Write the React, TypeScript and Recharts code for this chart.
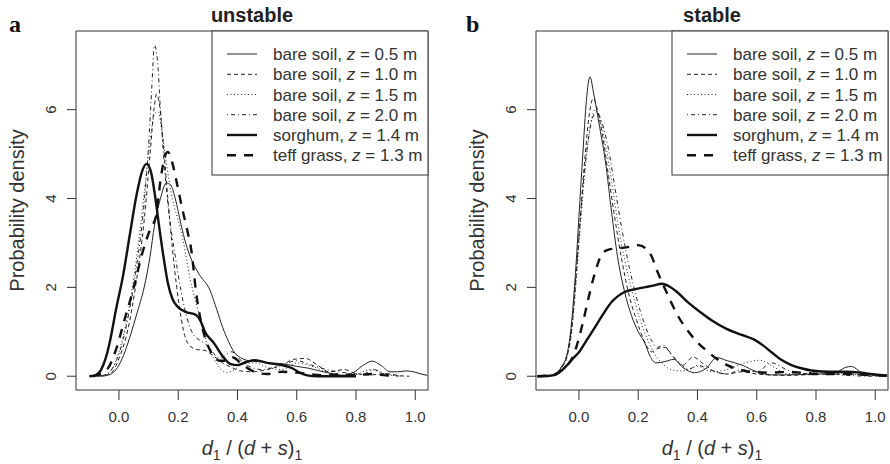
import React from 'react';
import { LineChart, Line, XAxis, YAxis, ReferenceArea } from 'recharts';

type P = [number, number];

const FONT = '"Liberation Sans", Arial, Helvetica, sans-serif';
const xTicks = [0, 0.2, 0.4, 0.6, 0.8, 1.0];
const yTicks = [0, 2, 4, 6];
const xDomain: [number, number] = [-0.145, 1.043];
const yDomain: [number, number] = [-0.31, 7.77];

const seriesNames = ['bare soil', 'bare soil', 'bare soil', 'bare soil', 'sorghum', 'teff grass'];
const seriesHeights = ['0.5', '1.0', '1.5', '2.0', '1.4', '1.3'];

// ---- unstable (a) ----
const unstableBare05: P[] = [[-0.06,0],[-0.04,0.02],[-0.02,0.08],[0,0.25],[0.02,0.55],[0.04,0.95],[0.06,1.4],[0.085,2.0],[0.105,2.7],[0.12,3.4],[0.14,4.0],[0.16,4.35],[0.175,4.3],[0.19,4.0],[0.21,3.4],[0.225,3.0],[0.24,2.7],[0.27,2.3],[0.307,1.94],[0.33,1.5],[0.35,1.1],[0.37,0.78],[0.385,0.58],[0.41,0.42],[0.43,0.36],[0.47,0.33],[0.51,0.3],[0.555,0.28],[0.6,0.22],[0.64,0.18],[0.67,0.13],[0.71,0.07],[0.757,0.02],[0.79,0.08],[0.825,0.25],[0.855,0.34],[0.885,0.24],[0.915,0.1],[0.94,0.1],[0.97,0.12],[1.0,0.09],[1.02,0.05],[1.04,0.02]];
const unstableBare10: P[] = [[-0.07,0],[-0.04,0.03],[-0.02,0.12],[0,0.4],[0.03,1.05],[0.06,2.2],[0.085,3.5],[0.105,5.0],[0.118,6.0],[0.127,6.35],[0.137,6.1],[0.15,5.2],[0.165,4.0],[0.18,2.9],[0.195,2.0],[0.21,1.3],[0.225,0.85],[0.245,0.65],[0.265,0.6],[0.29,0.58],[0.32,0.45],[0.35,0.3],[0.38,0.2],[0.41,0.12],[0.45,0.1],[0.5,0.15],[0.55,0.25],[0.59,0.38],[0.63,0.4],[0.67,0.25],[0.71,0.1],[0.76,0.15],[0.8,0.06],[0.85,0.03],[0.9,0.06],[0.95,0.01],[0.98,0]];
const unstableBare15: P[] = [[-0.07,0],[-0.04,0.05],[-0.02,0.2],[0,0.55],[0.03,1.4],[0.06,2.7],[0.085,4.1],[0.105,5.3],[0.12,5.9],[0.132,5.95],[0.145,5.5],[0.16,4.8],[0.18,4.0],[0.2,3.5],[0.215,3.1],[0.24,2.2],[0.27,1.4],[0.295,0.8],[0.32,0.4],[0.345,0.15],[0.365,0.08],[0.39,0.15],[0.42,0.28],[0.46,0.3],[0.5,0.2],[0.55,0.15],[0.6,0.3],[0.64,0.25],[0.7,0.1],[0.75,0.03],[0.8,0.05],[0.85,0.15],[0.9,0.05],[0.95,0]];
const unstableBare20: P[] = [[-0.07,0],[-0.04,0.05],[-0.02,0.2],[0,0.5],[0.03,1.3],[0.06,2.5],[0.085,3.9],[0.1,5.2],[0.11,6.4],[0.12,7.45],[0.13,7.1],[0.14,6.0],[0.155,4.6],[0.17,3.6],[0.19,2.7],[0.21,1.9],[0.23,1.3],[0.25,0.95],[0.28,0.78],[0.3,0.68],[0.34,0.4],[0.38,0.55],[0.42,0.3],[0.48,0.15],[0.55,0.25],[0.6,0.35],[0.65,0.25],[0.7,0.15],[0.76,0.08],[0.82,0.04],[0.86,0.15],[0.9,0.05],[0.95,0]];
const unstableSorghum: P[] = [[-0.1,0],[-0.08,0.02],[-0.06,0.15],[-0.045,0.4],[-0.03,0.8],[-0.01,1.5],[0.014,2.27],[0.037,3.2],[0.06,4.1],[0.08,4.65],[0.093,4.78],[0.108,4.6],[0.122,4.05],[0.135,3.4],[0.15,2.7],[0.165,2.1],[0.18,1.75],[0.2,1.55],[0.225,1.45],[0.26,1.38],[0.275,1.25],[0.29,1.0],[0.32,0.75],[0.35,0.45],[0.375,0.28],[0.4,0.25],[0.43,0.32],[0.46,0.36],[0.5,0.3],[0.55,0.25],[0.585,0.18],[0.61,0.08],[0.635,0.02],[0.67,0],[0.75,0],[0.8,0]];
const unstableTeff: P[] = [[-0.09,0],[-0.06,0.05],[-0.035,0.2],[-0.01,0.6],[0.02,1.3],[0.05,2.0],[0.08,2.8],[0.105,3.3],[0.125,3.6],[0.14,4.4],[0.155,4.95],[0.165,5.05],[0.18,4.8],[0.2,4.2],[0.216,3.7],[0.23,3.3],[0.245,2.8],[0.26,1.9],[0.285,1.0],[0.31,0.55],[0.34,0.35],[0.365,0.35],[0.385,0.42],[0.41,0.3],[0.45,0.12],[0.5,0.05],[0.55,0.1],[0.6,0.08],[0.65,0.04],[0.7,0.02],[0.75,0.05],[0.8,0.02],[0.85,0.05],[0.9,0.02],[0.93,0]];

// ---- stable (b) ----
const stableBare05: P[] = [[-0.14,0],[-0.1,0.01],[-0.08,0.05],[-0.06,0.2],[-0.04,0.5],[-0.025,1.2],[-0.01,2.5],[0,3.6],[0.013,5.0],[0.025,6.2],[0.037,6.74],[0.05,6.35],[0.07,5.6],[0.09,4.8],[0.11,3.7],[0.13,2.7],[0.154,1.9],[0.177,1.37],[0.2,1.0],[0.222,0.75],[0.24,0.45],[0.26,0.3],[0.29,0.33],[0.32,0.38],[0.35,0.2],[0.39,0.08],[0.43,0.18],[0.465,0.42],[0.5,0.35],[0.55,0.25],[0.6,0.1],[0.65,0.03],[0.7,0.03],[0.8,0.05],[0.86,0.06],[0.9,0.2],[0.92,0.22],[0.95,0.1],[1.0,0.03],[1.04,0.01]];
const stableBare10: P[] = [[-0.14,0],[-0.1,0.01],[-0.08,0.05],[-0.06,0.18],[-0.04,0.45],[-0.025,1.0],[-0.01,2.2],[0.005,3.6],[0.02,4.9],[0.035,5.9],[0.048,6.25],[0.062,6.0],[0.08,5.4],[0.1,4.5],[0.12,3.6],[0.145,2.6],[0.17,1.8],[0.195,1.25],[0.22,0.8],[0.245,0.55],[0.265,0.62],[0.29,0.65],[0.32,0.42],[0.35,0.25],[0.385,0.43],[0.42,0.28],[0.46,0.1],[0.5,0.05],[0.55,0.1],[0.6,0.05],[0.7,0.02],[0.8,0.04],[0.9,0.05],[1.0,0.02],[1.04,0.01]];
const stableBare15: P[] = [[-0.14,0],[-0.1,0.01],[-0.08,0.05],[-0.06,0.18],[-0.04,0.45],[-0.025,1.0],[-0.01,2.1],[0.005,3.4],[0.02,4.6],[0.04,5.7],[0.055,6.0],[0.07,5.8],[0.09,5.2],[0.11,4.4],[0.13,3.5],[0.155,2.6],[0.18,1.9],[0.205,1.3],[0.23,0.85],[0.255,0.5],[0.28,0.3],[0.31,0.15],[0.35,0.12],[0.4,0.22],[0.45,0.1],[0.5,0.15],[0.56,0.3],[0.61,0.36],[0.66,0.2],[0.7,0.06],[0.75,0.05],[0.8,0.1],[0.9,0.05],[1.0,0.01],[1.04,0]];
const stableBare20: P[] = [[-0.14,0],[-0.1,0.01],[-0.08,0.06],[-0.06,0.2],[-0.04,0.5],[-0.025,1.1],[-0.01,2.3],[0.005,3.6],[0.025,5.0],[0.045,5.8],[0.06,5.95],[0.078,5.7],[0.1,5.1],[0.12,4.3],[0.145,3.3],[0.17,2.45],[0.195,1.75],[0.22,1.2],[0.245,0.8],[0.265,0.65],[0.285,0.7],[0.31,0.5],[0.34,0.3],[0.37,0.15],[0.4,0.25],[0.44,0.15],[0.5,0.05],[0.55,0.15],[0.6,0.1],[0.65,0.3],[0.7,0.15],[0.75,0.05],[0.8,0.1],[0.9,0.02],[1.0,0],[1.04,0]];
const stableSorghum: P[] = [[-0.14,0],[-0.1,0.01],[-0.08,0.03],[-0.06,0.12],[-0.04,0.25],[-0.02,0.4],[0,0.54],[0.025,0.8],[0.05,1.06],[0.08,1.38],[0.11,1.67],[0.135,1.82],[0.155,1.9],[0.19,1.96],[0.22,2.0],[0.25,2.04],[0.28,2.08],[0.305,2.02],[0.33,1.9],[0.37,1.65],[0.41,1.44],[0.45,1.25],[0.5,1.06],[0.55,0.93],[0.59,0.83],[0.62,0.7],[0.65,0.54],[0.68,0.38],[0.717,0.25],[0.75,0.18],[0.785,0.13],[0.85,0.1],[0.9,0.1],[0.95,0.08],[1.0,0.04],[1.04,0.02]];
const stableTeff: P[] = [[-0.14,0],[-0.1,0.02],[-0.07,0.08],[-0.05,0.18],[-0.02,0.45],[0.013,1.2],[0.03,1.7],[0.047,2.16],[0.062,2.5],[0.077,2.75],[0.1,2.85],[0.13,2.88],[0.16,2.9],[0.2,2.95],[0.225,2.88],[0.245,2.7],[0.265,2.35],[0.295,1.9],[0.333,1.37],[0.37,1.0],[0.4,0.76],[0.435,0.55],[0.467,0.38],[0.5,0.25],[0.535,0.16],[0.58,0.1],[0.65,0.08],[0.7,0.1],[0.75,0.08],[0.8,0.05],[0.9,0.05],[1.0,0.02],[1.04,0.01]];

const unstableSeries = [unstableBare05, unstableBare10, unstableBare15, unstableBare20, unstableSorghum, unstableTeff];
const stableSeries = [stableBare05, stableBare10, stableBare15, stableBare20, stableSorghum, stableTeff];

const lineStyles = [
  { w: 1, dash: undefined as string | undefined, color: '#222' },
  { w: 1, dash: '4 3', color: '#222' },
  { w: 1, dash: '1 2.5', color: '#222' },
  { w: 1, dash: '1 3 4 3', color: '#222' },
  { w: 2.4, dash: undefined as string | undefined, color: '#111' },
  { w: 2.4, dash: '9 8', color: '#111' },
];

const toRows = (pts: P[]) => pts.map(([x, y]) => ({ x, y }));

const YTick = (props: any) => {
  const { x, y, payload } = props;
  const cx = x - 14;
  return (
    <text x={cx} y={y} transform={`rotate(-90 ${cx} ${y})`} textAnchor="middle" dominantBaseline="central"
      fontFamily={FONT} fontSize={15} fill="#333">{payload.value}</text>
  );
};

const XLabel = (props: any) => {
  const vb = props.viewBox || {};
  const cx = vb.x + vb.width / 2;
  const by = vb.y + 65;
  return (
    <text x={cx} y={by} textAnchor="middle" fontFamily={FONT} fontSize={20} fill="#333">
      <tspan fontStyle="italic">d</tspan>
      <tspan fontSize={14} dy={5}>1</tspan>
      <tspan dy={-5}> / (</tspan>
      <tspan fontStyle="italic">d</tspan>
      <tspan> + </tspan>
      <tspan fontStyle="italic">s</tspan>
      <tspan>)</tspan>
      <tspan fontSize={14} dy={5}>1</tspan>
    </text>
  );
};

const YLabel = (props: any) => {
  const vb = props.viewBox || {};
  const cx = vb.x + vb.width - 59;
  const cy = vb.y + vb.height / 2;
  return (
    <text x={cx} y={cy} transform={`rotate(-90 ${cx} ${cy})`} textAnchor="middle" dominantBaseline="central"
      fontFamily={FONT} fontSize={20} fill="#333">Probability density</text>
  );
};

function Panel({ series, marginLeft, marginRight }: { series: P[][]; marginLeft: number; marginRight: number }) {
  return (
    <LineChart width={445} height={464} margin={{ top: 31, right: marginRight, bottom: 0, left: marginLeft }}>
      <XAxis dataKey="x" type="number" domain={xDomain} ticks={xTicks} allowDataOverflow
        tickFormatter={(v: number) => v.toFixed(1)} axisLine={false} tickSize={10} tickMargin={11}
        tickLine={{ stroke: '#333' }} tick={{ fontFamily: FONT, fontSize: 15, fill: '#333' }}
        height={74} label={<XLabel />} />
      <YAxis type="number" domain={yDomain} ticks={yTicks} allowDataOverflow axisLine={false}
        tickSize={9} tickMargin={2} tickLine={{ stroke: '#333' }} tick={<YTick />} width={40}
        label={<YLabel />} />
      <ReferenceArea x1={xDomain[0]} x2={xDomain[1]} y1={yDomain[0]} y2={yDomain[1]}
        fill="none" fillOpacity={0} stroke="#333" strokeWidth={1} ifOverflow="visible" />
      {series.map((s, i) => (
        <Line key={i} data={toRows(s)} dataKey="y" type="monotone" dot={false} activeDot={false}
          stroke={lineStyles[i].color} strokeWidth={lineStyles[i].w} strokeDasharray={lineStyles[i].dash}
          isAnimationActive={false} />
      ))}
    </LineChart>
  );
}

function LegendBox({ left }: { left: number }) {
  const rowY = [54, 74.3, 94.5, 114.7, 135, 155.2];
  return (
    <g>
      <rect x={left} y={31} width={216} height={144} fill="#fff" stroke="#333" strokeWidth={1} />
      {seriesNames.map((n, i) => (
        <g key={i}>
          <line x1={left + 15} x2={left + 45} y1={rowY[i]} y2={rowY[i]} stroke={lineStyles[i].color}
            strokeWidth={lineStyles[i].w} strokeDasharray={lineStyles[i].dash} />
          <text x={left + 61} y={rowY[i] + 6} fontFamily={FONT} fontSize={17} fill="#333">
            {n}, <tspan fontStyle="italic">z</tspan> = {seriesHeights[i]} m
          </text>
        </g>
      ))}
    </g>
  );
}

export default function App() {
  return (
    <div style={{ position: 'absolute', left: 0, top: 0, width: 890, height: 464, background: '#fff' }}>
      <div style={{ position: 'absolute', left: 0, top: 0 }}>
        <Panel series={unstableSeries} marginLeft={36} marginRight={17} />
      </div>
      <div style={{ position: 'absolute', left: 445, top: 0 }}>
        <Panel series={stableSeries} marginLeft={51} marginRight={2} />
      </div>
      <svg width={890} height={464} style={{ position: 'absolute', left: 0, top: 0, pointerEvents: 'none' }}>
        <text x={252} y={22} textAnchor="middle" fontFamily={FONT} fontSize={20} fontWeight="bold" fill="#222">unstable</text>
        <text x={712} y={22} textAnchor="middle" fontFamily={FONT} fontSize={20} fontWeight="bold" fill="#222">stable</text>
        <text x={9} y={32} fontFamily='"Liberation Serif", "Times New Roman", serif' fontSize={24} fontWeight="bold" fill="#111">a</text>
        <text x={466} y={32} fontFamily='"Liberation Serif", "Times New Roman", serif' fontSize={24} fontWeight="bold" fill="#111">b</text>
        <LegendBox left={212} />
        <LegendBox left={672} />
      </svg>
    </div>
  );
}
